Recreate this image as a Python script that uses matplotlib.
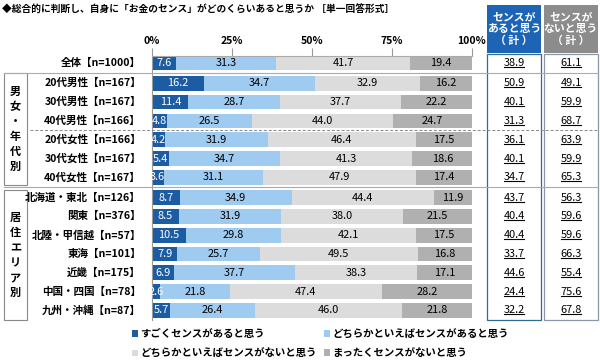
import numpy as np
import matplotlib
matplotlib.use('Agg')
import matplotlib.pyplot as plt
from matplotlib import transforms
from matplotlib.patches import Rectangle, Patch
from matplotlib.lines import Line2D

plt.rcParams['font.family'] = ['Noto Sans CJK JP', 'DejaVu Sans']

title = '◆総合的に判断し、自身に「お金のセンス」がどのくらいあると思うか ［単一回答形式］'
labels = ['全体【n=1000】',
          '20代男性【n=167】', '30代男性【n=167】', '40代男性【n=166】',
          '20代女性【n=166】', '30代女性【n=167】', '40代女性【n=167】',
          '北海道・東北【n=126】', '関東【n=376】', '北陸・甲信越【n=57】',
          '東海【n=101】', '近畿【n=175】', '中国・四国【n=78】', '九州・沖縄【n=87】']
groups = [0, 1, 1, 1, 1, 1, 1, 2, 2, 2, 2, 2, 2, 2]
group_names = ['', '男\n女\n・\n年\n代\n別', '居\n住\nエ\nリ\nア\n別']

very = [7.6, 16.2, 11.4, 4.8, 4.2, 5.4, 3.6, 8.7, 8.5, 10.5, 7.9, 6.9, 2.6, 5.7]
some = [31.3, 34.7, 28.7, 26.5, 31.9, 34.7, 31.1, 34.9, 31.9, 29.8, 25.7, 37.7, 21.8, 26.4]
rather_not = [41.7, 32.9, 37.7, 44.0, 46.4, 41.3, 47.9, 44.4, 38.0, 42.1, 49.5, 38.3, 47.4, 46.0]
not_at_all = [19.4, 16.2, 22.2, 24.7, 17.5, 18.6, 17.4, 11.9, 21.5, 17.5, 16.8, 17.1, 28.2, 21.8]
has_total = [38.9, 50.9, 40.1, 31.3, 36.1, 40.1, 34.7, 43.7, 40.4, 40.4, 33.7, 44.6, 24.4, 32.2]
not_total = [61.1, 49.1, 59.9, 68.7, 63.9, 59.9, 65.3, 56.3, 59.6, 59.6, 66.3, 55.4, 75.6, 67.8]

series_names = ['すごくセンスがあると思う', 'どちらかといえばセンスがあると思う',
                'どちらかといえばセンスがないと思う', 'まったくセンスがないと思う']
colors = ['#1c5ca3', '#9fcbf1', '#dcdcdc', '#b0b0b0']
text_colors = ['white', 'black', 'black', 'black']
ticks = [0, 25, 50, 75, 100]
tick_labels = ['0%', '25%', '50%', '75%', '100%']
head_labels = ['センスが\nあると思う\n（ 計 ）', 'センスが\nないと思う\n（ 計 ）']

W, H = 600, 363
fig = plt.figure(figsize=(W / 100, H / 100), dpi=100)
# pixel coordinates (y downwards) -> figure
px = transforms.Affine2D().scale(1 / W, -1 / H).translate(0, 1) + fig.transFigure

ax_top, ax_bot = 56, 320
ax = fig.add_axes([152 / W, 1 - ax_bot / H, 320 / W, (ax_bot - ax_top) / H])

ypos = np.arange(len(labels)) + 0.08 * np.array(groups)
pitch = 18.8
ax.set_ylim((ax_bot - 63) / pitch, (ax_top - 63) / pitch)
ax.set_xlim(0, 100)

left = np.zeros(len(labels))
for vals, c, tc in zip([very, some, rather_not, not_at_all], colors, text_colors):
    vals = np.array(vals)
    ax.barh(ypos, vals, left=left, height=0.78, color=c, edgecolor='none', zorder=2)
    for y, l, v in zip(ypos, left, vals):
        ax.text(l + v / 2, y, f'{v:.1f}', ha='center', va='center', fontsize=7.9,
                color=tc, zorder=3)
    left += vals

ax.xaxis.tick_top()
ax.set_xticks(ticks)
ax.set_xticklabels(tick_labels, fontsize=7.5, fontweight='bold')
ax.tick_params(axis='x', direction='out', length=6, width=0.8, color='#999999', pad=1)
ax.set_yticks([])
for s in ['right', 'bottom']:
    ax.spines[s].set_visible(False)
ax.spines['top'].set_color('#aaaaaa')
ax.spines['left'].set_color('#999999')
ax.spines['top'].set_linewidth(0.8)
ax.spines['left'].set_linewidth(0.8)

bt = transforms.blended_transform_factory(px, ax.transData)

# row labels
for y, lab in zip(ypos, labels):
    fig.text(141, y, lab, transform=bt, ha='right', va='center', fontsize=7.6,
             fontweight='bold')

# separators
mid01 = (ypos[0] + ypos[1]) / 2
mid34 = (ypos[3] + ypos[4]) / 2
mid67 = (ypos[6] + ypos[7]) / 2
bottom = ypos[-1] + 0.5
fig.add_artist(Line2D([4, 598], [mid01, mid01], transform=bt, color='#aaaaaa', lw=0.8))
fig.add_artist(Line2D([4, 598], [mid67, mid67], transform=bt, color='#aaaaaa', lw=0.8))
fig.add_artist(Line2D([30, 598], [mid34, mid34], transform=bt, color='#888888', lw=0.7,
                      ls=(0, (3, 2))))

# group boxes
for g, (y0, y1) in zip([1, 2], [(mid01, mid67 - 0.15), (mid67 + 0.15, bottom)]):
    fig.add_artist(Rectangle((4, y0), 23, y1 - y0, transform=bt, fill=False,
                             edgecolor='#888888', lw=0.8))
    fig.text(15.5, (y0 + y1) / 2, group_names[g], transform=bt, ha='center', va='center',
             fontsize=8, fontweight='bold', linespacing=1.2)

# summary columns
col_x = [(487, 541), (544, 598)]
head_colors = ['#1d64b4', '#8c8c8c']
border_colors = ['#2f6c93', '#8a97a6']
top_tab = ypos[0] - 0.5
for (x0, x1), hc, bc, hl, vals in zip(col_x, head_colors, border_colors, head_labels,
                                      [has_total, not_total]):
    fig.add_artist(Rectangle((x0, 5), x1 - x0, 48, transform=px, facecolor=hc,
                             edgecolor='none'))
    fig.text((x0 + x1) / 2, 29, hl, transform=px, ha='center', va='center', color='white',
             fontsize=7.8, fontweight='bold', linespacing=1.15)
    fig.add_artist(Rectangle((x0, top_tab), x1 - x0, bottom - top_tab, transform=bt,
                             fill=False, edgecolor=bc, lw=0.9))
    for y, v in zip(ypos, vals):
        t = fig.text((x0 + x1) / 2, y, f'{v:.1f}', transform=bt, ha='center', va='center',
                     fontsize=7.9)
        t._underline = True

fig.text(2, 10, title, transform=px, ha='left', va='center', fontsize=7, fontweight='bold')

# legend
order = [0, 2, 1, 3]
handles = [Patch(facecolor=colors[i], edgecolor='none') for i in order]
fig.legend(handles, [series_names[i] for i in order], ncol=2, loc='upper left',
           bbox_to_anchor=(132 / W, 1 - 329 / H), frameon=False,
           handlelength=0.55, handleheight=0.55, handletextpad=0.25, columnspacing=0.7,
           labelspacing=0.85, borderaxespad=0, borderpad=0,
           prop={'weight': 'bold', 'size': 7.5})

# underline summary values
fig.canvas.draw()
r = fig.canvas.get_renderer()
inv = fig.transFigure.inverted()
for t in fig.texts:
    if getattr(t, '_underline', False):
        bb = t.get_window_extent(r)
        (xa, ya), (xb, _) = inv.transform([(bb.x0 + 1, bb.y0 + 1), (bb.x1 - 1, bb.y0)])
        fig.add_artist(Line2D([xa, xb], [ya, ya], transform=fig.transFigure,
                              color='black', lw=0.8))

fig.savefig('out.png', dpi=100)
